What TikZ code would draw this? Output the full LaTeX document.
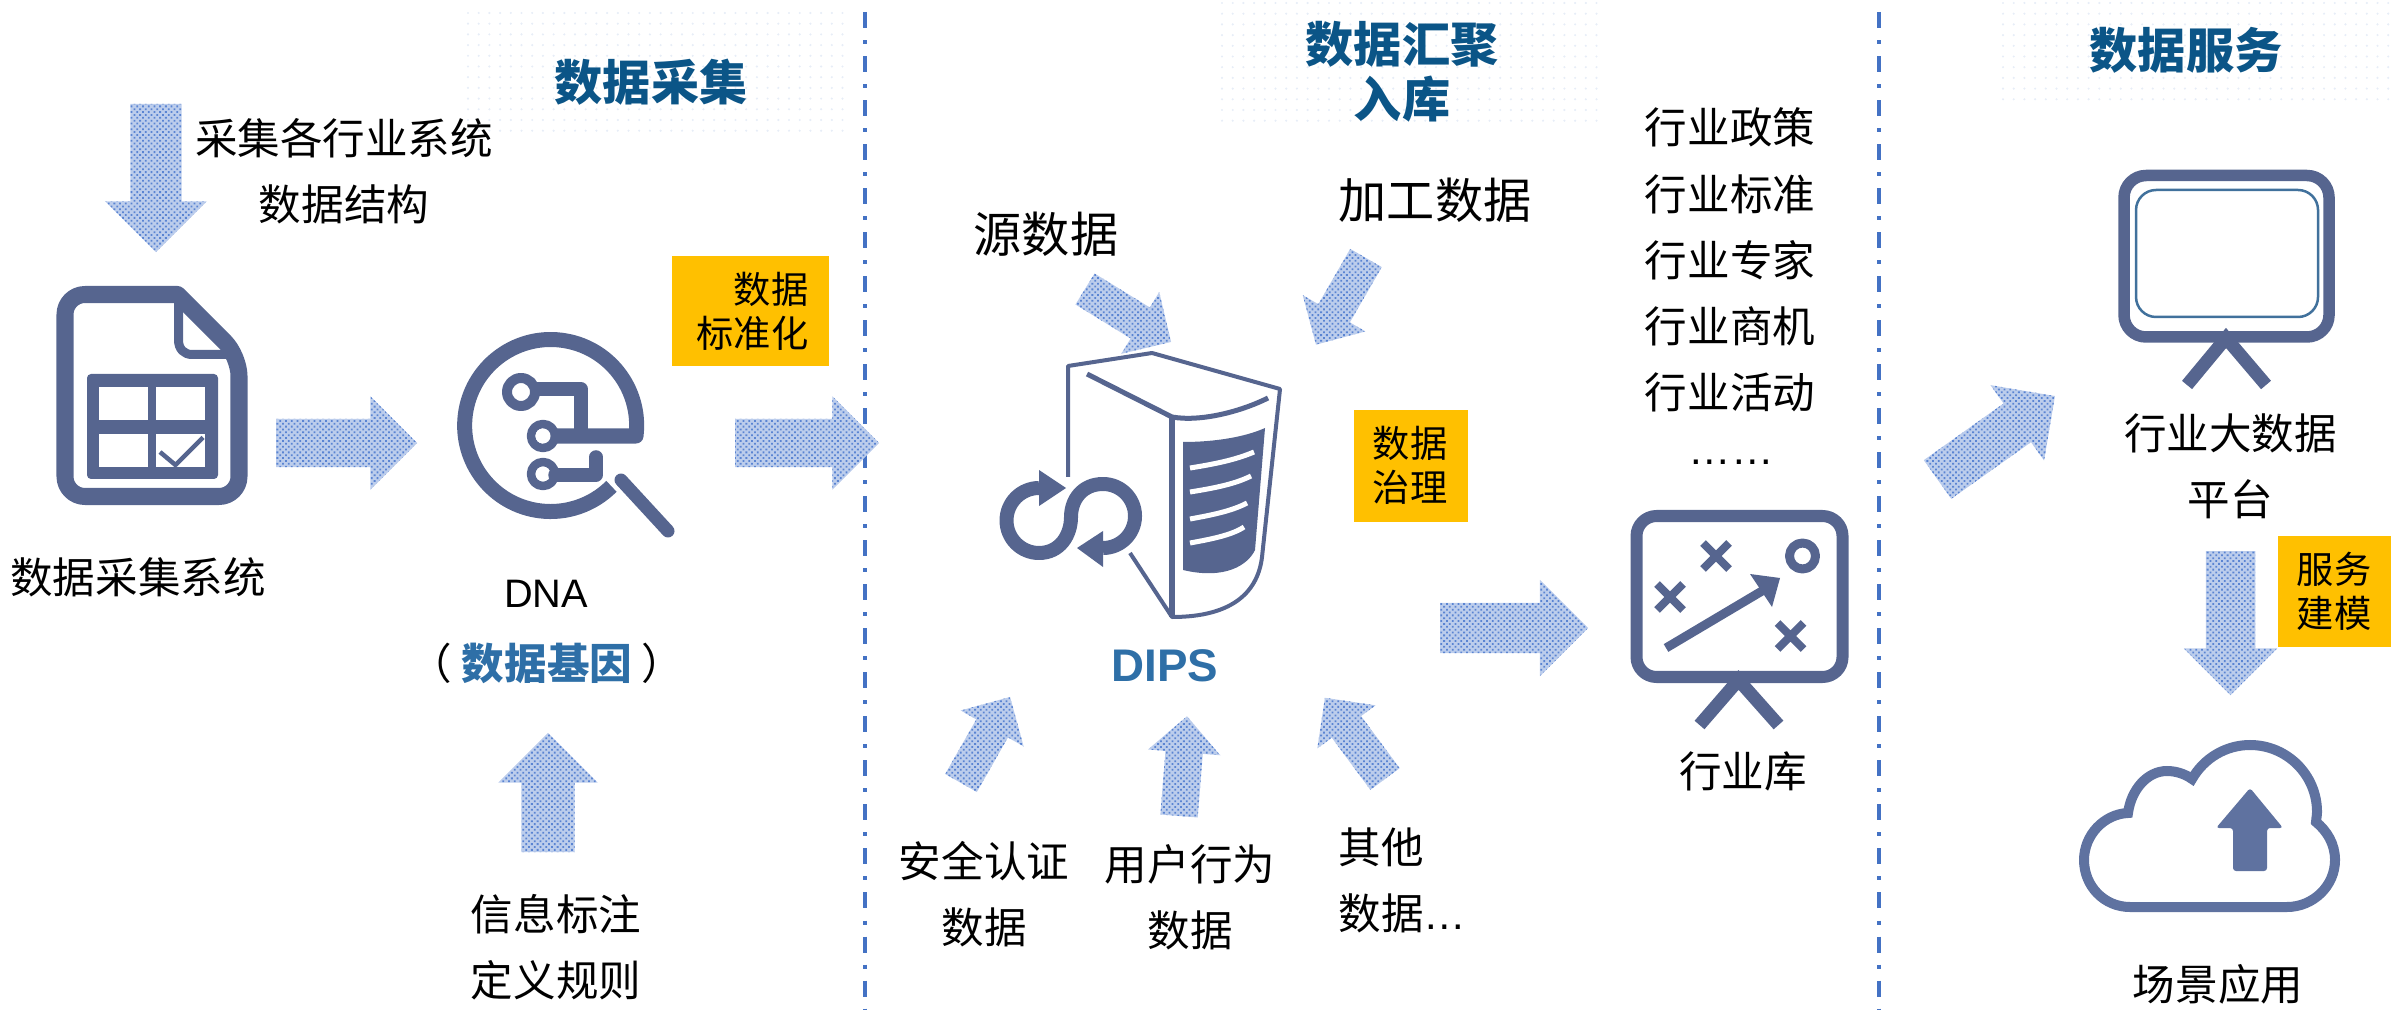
\documentclass[tikz,border=0pt]{standalone}
\usepackage{fontspec}
\setmainfont{Noto Sans CJK SC}
\newfontfamily\latinfont{Liberation Sans}
\usetikzlibrary{shapes.arrows,patterns.meta}

\definecolor{iconBlue}{HTML}{56658F}
\definecolor{cloudBlue}{HTML}{5F72A0}
\definecolor{screenBlue}{HTML}{41719C}
\definecolor{dashBlue}{HTML}{4472C4}
\definecolor{titleBlue}{HTML}{0B5587}
\definecolor{dipsBlue}{HTML}{2E6FA7}
\definecolor{tagYellow}{HTML}{FFC000}
\definecolor{arrowBase}{HTML}{BCCDEC}
\definecolor{arrowDot}{HTML}{5A84D2}

\tikzset{
    blockarrow/.style n args={3}{shape=single arrow, anchor=tail, inner xsep=0pt, inner ysep=#2/2, outer sep=0pt,
        preaction={fill=arrowBase}, pattern={Dots[distance=1.15pt, radius=.36pt, angle=45]}, pattern color=arrowDot,
        minimum height=#1, minimum width=#3, single arrow head extend=(#3-#2)/2, single arrow tip angle=90},
    lbl/.style={align=center, inner sep=0pt, font=\fontsize{12.1pt}{18.8pt}\selectfont},
    bigLbl/.style={inner sep=0pt, font=\fontsize{13.7pt}{18pt}\selectfont},
    secTitle/.style={align=center, inner sep=0pt, text=titleBlue, font=\fontsize{13.7pt}{15.6pt}\selectfont\bfseries},
    tag/.style={fill=tagYellow, inner sep=0pt, anchor=north west},
    tagText/.style={inner sep=0pt, font=\fontsize{10.6pt}{12.6pt}\selectfont},
    icon/.style={draw=iconBlue, line join=round},
    sep/.style={dashBlue, line width=.04cm, dash pattern=on .16cm off .12cm on .04cm off .12cm}
}

\newcommand{\dotpatch}[4]{
    \foreach \r in {0,...,#4}
        \foreach \c in {0,...,#3}
            \fill[dashBlue!13] ({#1+\c*10.7},{#2+\r*10.7}) circle (1.2);
}

\begin{document}
\begin{tikzpicture}[x=.01cm, y=-.01cm]
    \useasboundingbox (0,0) rectangle (2395,1010);

    % dotted patches behind the titles
    \dotpatch{468}{13}{35}{11}
    \dotpatch{1222}{3}{35}{11}
    \dotpatch{2003}{3}{36}{9}

    % separators
    \draw[sep] (865,12) -- (865,1010);
    \draw[sep] (1879,12) -- (1879,1010);

    % titles
    \node[secTitle] (titleCollect) at (651,82) {数据采集};
    \node[secTitle] (titleStore) at (1402,72) {数据汇聚\\入库};
    \node[secTitle] (titleService) at (2186,50) {数据服务};

    % file icon
    \draw[icon, line width=.17cm] (177.5,294.5) [rounded corners=.2cm] -- (65,294.5) -- (65,496.5) -- (239,496.5) -- (239,356) [sharp corners] -- cycle;
    \draw[icon, line width=.09cm] (178.5,296) -- (178.5,340) .. controls (178.5,349) and (184,354.5) .. (192,354.5) -- (238,354.5);
    \fill[iconBlue, rounded corners=.04cm] (87,374) rectangle (218,479);
    \fill[white] (99,387.5) rectangle (147.5,420);
    \fill[white] (156,387.5) rectangle (204.5,420);
    \fill[white] (99,434) rectangle (147.5,467);
    \fill[white] (156,434) rectangle (204.5,467);
    \draw[icon, line width=.045cm] (160,452) -- (175.5,465) -- (203,437.5);

    % gene icon
    \draw[icon, line width=.15cm] (543,436) -- (636,436) arc (7:-315:86);
    \draw[icon, line width=.1cm] (521,392) circle (14);
    \draw[icon, line width=.085cm] (543,436) circle (12);
    \draw[icon, line width=.085cm] (543,474) circle (12);
    \fill[white] (543,436) circle (7.5);
    \draw[icon, line width=.135cm] (535,389) -- (581,389) -- (581,436);
    \draw[icon, line width=.135cm, line cap=round] (555,475) -- (596,475) -- (596,457);
    \draw[icon, line width=.13cm, line cap=round] (621,480) -- (668,531);

    % server icon
    \draw[icon, line width=.04cm] (1068,477) -- (1068,366) -- (1152,353) -- (1280,389) -- (1262,557) .. controls (1258,590) and (1235,617) .. (1172,617) -- (1130,553);
    \draw[icon, line width=.05cm] (1087,374) -- (1172,417) .. controls (1200,422) and (1240,412) .. (1268,398);
    \draw[icon, line width=.06cm] (1172,417) -- (1172,617);
    \fill[iconBlue] (1183,442) .. controls (1215,442) and (1245,437) .. (1265,428) -- (1255,550) .. controls (1248,565) and (1225,580) .. (1183,570) -- cycle;
    \draw[white, line width=.05cm] (1190,468) .. controls (1215,464) and (1235,460) .. (1254,452);
    \draw[white, line width=.05cm] (1190,492) .. controls (1215,488) and (1235,484) .. (1251,476);
    \draw[white, line width=.05cm] (1190,519) .. controls (1212,515) and (1232,511) .. (1247,503);
    \draw[white, line width=.05cm] (1190,543) .. controls (1212,539) and (1232,535) .. (1244,527);
    \draw[icon, line width=.14cm] (1039,488) arc (-90:-270:32.5) .. controls (1060,553) and (1071,535) .. (1071,517) .. controls (1071,500) and (1082,484) .. (1103,484) arc (-90:90:32);
    \fill[iconBlue] (1039,470) -- (1066,488) -- (1039,506) -- cycle;
    \fill[iconBlue] (1103,531) -- (1077,548) -- (1103,567) -- cycle;

    % board icon
    \draw[icon, line width=.12cm, rounded corners=.2cm] (1636.5,516) rectangle (1842.5,677);
    \draw[icon, line width=.13cm, line join=miter] (1699.5,725) -- (1738.5,680) -- (1778.5,725);
    \foreach \x/\y in {1716/556, 1670/597, 1790.5/636}
        \draw[iconBlue, line width=.08cm] (\x-13,\y-13) -- (\x+13,\y+13) (\x+13,\y-13) -- (\x-13,\y+13);
    \draw[icon, line width=.09cm] (1802.5,556) circle (13);
    \draw[icon, line width=.09cm] (1666,648) -- (1762,591);
    \fill[iconBlue] (1780,578) -- (1750,574) -- (1772,607) -- cycle;

    % platform icon
    \draw[icon, line width=.115cm, rounded corners=.22cm] (2124,175.5) rectangle (2329,337);
    \draw[screenBlue, line width=.025cm, rounded corners=.2cm] (2136,190) rectangle (2318,317);
    \draw[icon, line width=.13cm, line join=miter] (2187,385) -- (2226,338) -- (2266,385);

    % cloud icon
    \draw[draw=cloudBlue, line width=.1cm] (2130,907) .. controls (2104,907) and (2084,886) .. (2084,860) .. controls (2084,835) and (2104,814) .. (2128,813)
        .. controls (2131,790) and (2147,771) .. (2167,771) .. controls (2176,771) and (2185,774) .. (2192,779)
        .. controls (2204,758) and (2226,745) .. (2250,745) .. controls (2287,745) and (2317,775) .. (2317,812) .. controls (2317,816) and (2316,819) .. (2316,822)
        .. controls (2327,831) and (2335,844) .. (2335,860) .. controls (2335,886) and (2313,907) .. (2287,907) -- cycle;
    \fill[cloudBlue, rounded corners=.03cm] (2250,788) -- (2283,828) -- (2267,828) -- (2267,871) -- (2233,871) -- (2233,828) -- (2216,828) -- cycle;

    % block arrows
    \node[blockarrow={1.48cm}{.5cm}{1cm}, rotate=-90] (arrowCollect) at (156,104) {};
    \node[blockarrow={1.41cm}{.47cm}{.92cm}] (arrowGene) at (276,443) {};
    \node[blockarrow={1.44cm}{.47cm}{.92cm}] (arrowStd) at (735,443) {};
    \node[blockarrow={1.19cm}{.52cm}{.98cm}, rotate=90] (arrowTag) at (548,852) {};
    \node[blockarrow={1.01cm}{.35cm}{.71cm}, rotate=-31.6] (arrowSource) at (1085,289) {};
    \node[blockarrow={1cm}{.35cm}{.71cm}, rotate=-120] (arrowProcess) at (1366,258) {};
    \node[blockarrow={.99cm}{.35cm}{.71cm}, rotate=60.3] (arrowAuth) at (961,783) {};
    \node[blockarrow={1cm}{.36cm}{.71cm}, rotate=85.4] (arrowUser) at (1179,816) {};
    \node[blockarrow={1.01cm}{.35cm}{.71cm}, rotate=126.5] (arrowOther) at (1385,779) {};
    \node[blockarrow={1.48cm}{.49cm}{.95cm}] (arrowBoard) at (1440,628) {};
    \node[blockarrow={1.44cm}{.46cm}{.91cm}, rotate=35.4] (arrowPlatform) at (1937.5,479.5) {};
    \node[blockarrow={1.44cm}{.48cm}{.92cm}, rotate=-90] (arrowScene) at (2230.5,551) {};

    % yellow tags
    \node[tag, minimum width=1.57cm, minimum height=1.1cm] (tagStd) at (671,255) {};
    \node[tag, minimum width=1.14cm, minimum height=1.12cm] (tagGov) at (1353,409) {};
    \node[tag, minimum width=1.13cm, minimum height=1.11cm] (tagModel) at (2277,535) {};
    \node[tagText, align=right, anchor=east] (tagStdText) at (809,311) {数据\\标准化};
    \node[tagText, align=center] (tagGovText) at (1410,465) {数据\\治理};
    \node[tagText, align=center] (tagModelText) at (2334,591) {服务\\建模};

    % left part
    \node[lbl] (collectText) at (344,171) {采集各行业系统\\数据结构};
    \node[lbl] (systemText) at (138,577) {数据采集系统};
    \node[lbl, font=\fontsize{11.3pt}{14pt}\selectfont\latinfont] (dnaText) at (546,594) {DNA};
    \node[lbl] (geneText) at (547,663) {（ {\bfseries\color{dipsBlue}数据基因} ）};
    \node[lbl] (ruleText) at (556,947) {信息标注\\定义规则};

    % middle part
    \node[bigLbl] (sourceText) at (1046,234) {源数据};
    \node[bigLbl] (processText) at (1435,200) {加工数据};
    \node[inner sep=0pt, text=dipsBlue, font=\fontsize{13pt}{15pt}\selectfont\latinfont\bfseries] (dipsText) at (1165,666) {DIPS};
    \node[lbl] (authText) at (984,894) {安全认证\\数据};
    \node[lbl] (userText) at (1190,897) {用户行为\\数据};
    \node[lbl, align=left, anchor=west] (otherText) at (1338,880) {其他\\数据{\latinfont …}};
    \node[lbl] (industryText) at (1730,260) {行业政策\\行业标准\\行业专家\\行业商机\\行业活动};
    \node[lbl, font=\fontsize{12.1pt}{14pt}\selectfont\latinfont] (moreText) at (1731,462) {……};
    \node[lbl] (boardText) at (1743,771) {行业库};

    % right part
    \node[lbl] (platformText) at (2230.5,466) {行业大数据\\平台};
    \node[lbl] (sceneText) at (2218,984) {场景应用};
\end{tikzpicture}
\end{document}
